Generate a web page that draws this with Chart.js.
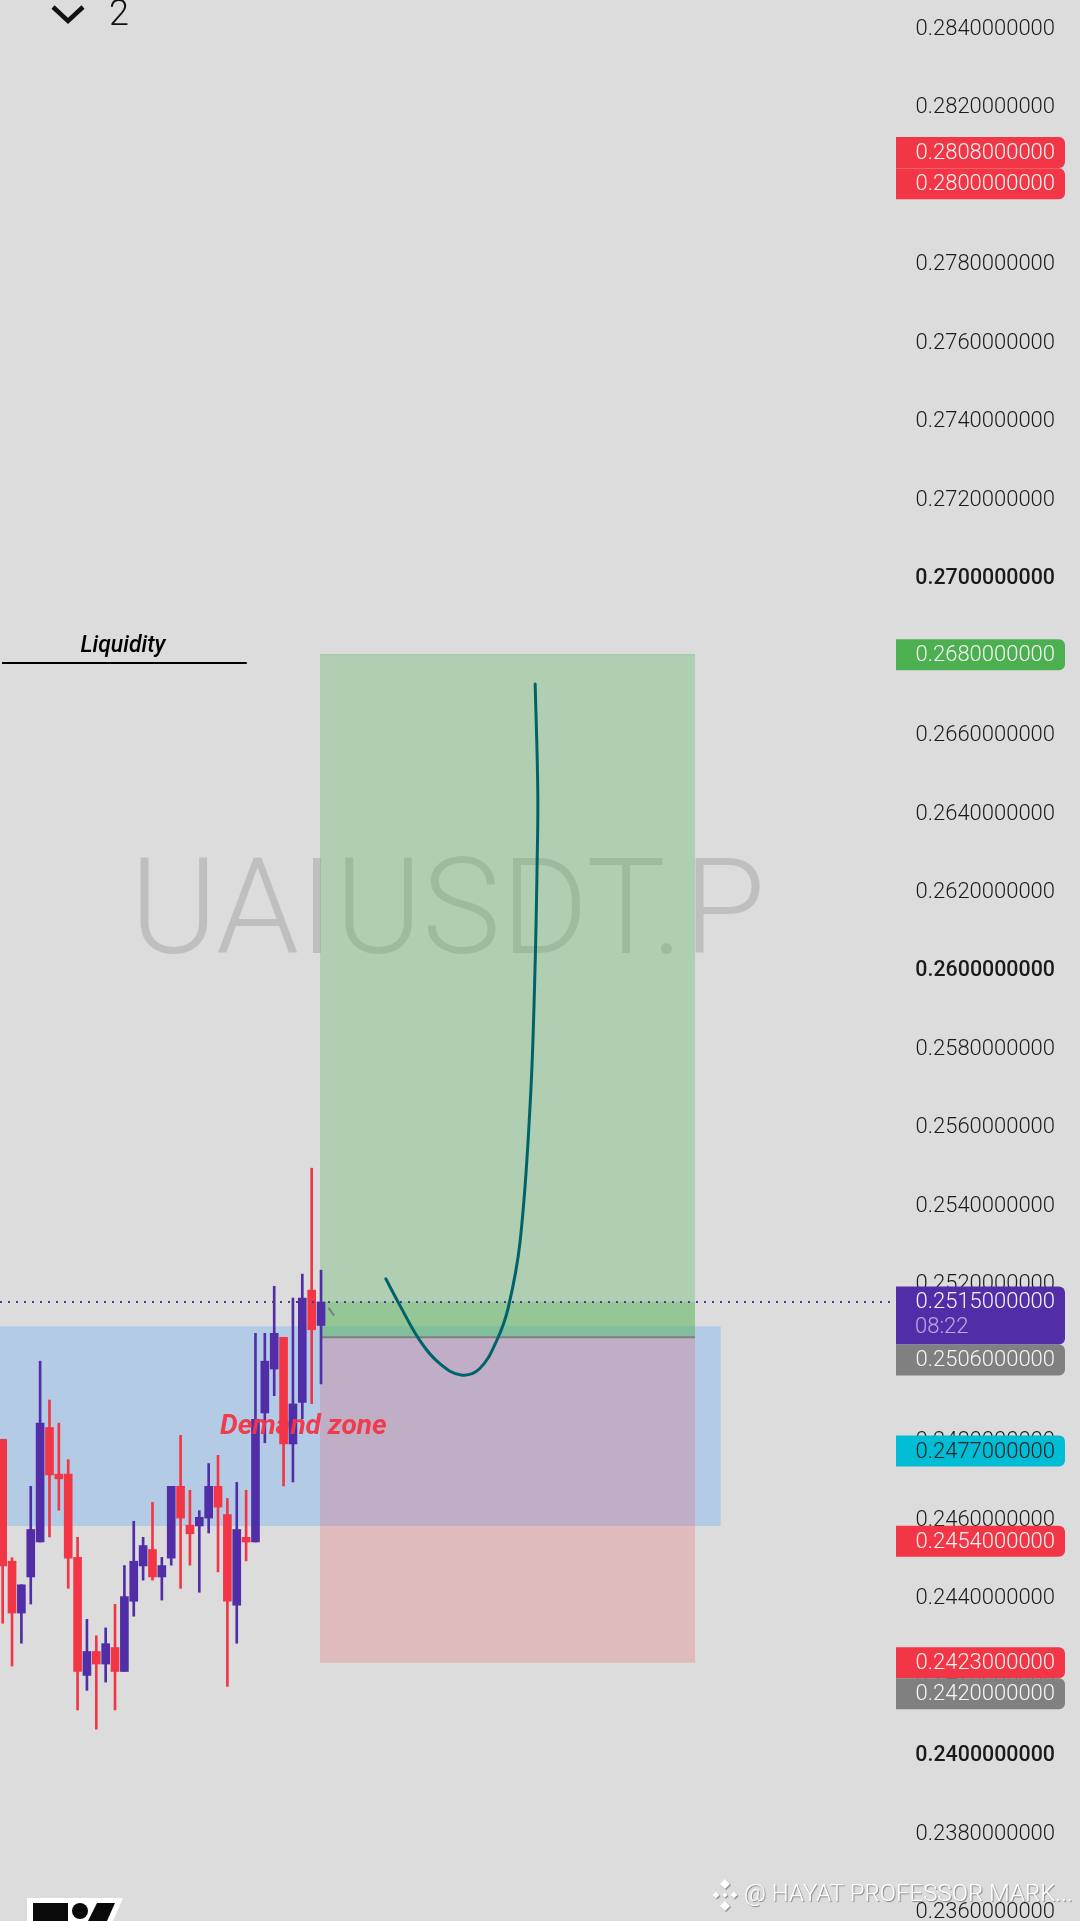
<!DOCTYPE html>
<html>
<head>
<meta charset="utf-8">
<style>
  html, body { margin: 0; padding: 0; background: #dcdcdc; }
  #wrap { position: relative; width: 1080px; height: 1921px; overflow: hidden; }
</style>
<script src="https://cdn.jsdelivr.net/npm/chart.js@4"></script>
</head>
<body>
<div id="wrap"><canvas id="chart" width="1080" height="1921"></canvas></div>
<script>
/* candles, left to right */
const opens  = [0.24800,0.24489,0.24357,0.24449,0.24538,0.24830,0.24711,0.24711,0.24499,0.24198,0.24259,0.24227,0.24269,0.24208,0.24387,0.24477,0.24519,0.24449,0.24497,0.24680,0.24581,0.24579,0.24599,0.24680,0.24608,0.24377,0.24550,0.24538,0.24867,0.24979,0.25060,0.24788,0.24894,0.25180,0.25090];
const closes = [0.24477,0.24357,0.24429,0.24570,0.24841,0.24709,0.24699,0.24497,0.24208,0.24259,0.24227,0.24279,0.24208,0.24399,0.24489,0.24529,0.24449,0.24478,0.24680,0.24599,0.24559,0.24601,0.24680,0.24627,0.24387,0.24570,0.24538,0.24851,0.24999,0.25070,0.24788,0.24890,0.25160,0.25079,0.25150];
const highs  = [0.24800,0.24498,0.24429,0.24680,0.24999,0.24900,0.24841,0.24748,0.24550,0.24341,0.24299,0.24319,0.24379,0.24478,0.24591,0.24550,0.24639,0.24499,0.24680,0.24810,0.24670,0.24618,0.24738,0.24759,0.24649,0.24690,0.24670,0.25070,0.25070,0.25190,0.25060,0.25160,0.25221,0.25491,0.25231];
const lows   = [0.24331,0.24222,0.24280,0.24380,0.24538,0.24551,0.24619,0.24420,0.24110,0.24160,0.24061,0.24181,0.24110,0.24208,0.24349,0.24441,0.24441,0.24390,0.24479,0.24420,0.24479,0.24410,0.24561,0.24462,0.24170,0.24280,0.24490,0.24538,0.24791,0.24911,0.24681,0.24691,0.24852,0.24891,0.24941];

/* y axis */
const yMin = 0.23572;
const yMax = 0.284687;
const tickStep = 0.002;
const boldTicks = [0.27, 0.26, 0.24];

/* price tags on the axis */
const tagPrices = [0.2808, 0.2800, 0.2680, 0.2515, 0.2506, 0.2477, 0.2454, 0.2423, 0.2420];
const tagColors = ["#f23645","#f23645","#4caf50","#512da8","#808080","#00bcd4","#f23645","#f23645","#808080"];
const tagInk    = ["#f5f5f5","#f5f5f5","#f5f5f5","#f5f5f5","#f5f5f5","#222222","#f5f5f5","#f5f5f5","#f5f5f5"];
const countdown = "08:22";

/* drawings, x in candle numbers */
const lastPrice = 0.2515;
const boxLeft = 33.9, boxRight = 73.95;
const targetTop = 0.2680, entry = 0.2506, stopBottom = 0.2423;
const zoneRight = 76.7, zoneTop = 0.25088, zoneBottom = 0.24579;
const liquidityX = [-0.07, 26.07], liquidityY = 0.26779;
const slashX = [34.8, 35.4], slashY = [0.25135, 0.25115];

const curveX = [40.92, 42.45, 44.58, 46.72, 48.95, 50.9, 52.75, 53.99, 55.27, 56.34, 56.82, 57.09, 57.15, 56.87];
const curveY = [0.25209, 0.25140, 0.25051, 0.24992, 0.24964, 0.24979, 0.25051, 0.25135, 0.25306, 0.25657, 0.25968, 0.26282, 0.26453, 0.26725];

const xMin = -0.285, xMax = 95.3;
const indexes = opens.map((_, i) => i);
const UP = "#512da8", DOWN = "#f23645";
const candleColors = opens.map((o, i) => closes[i] >= o ? UP : DOWN);

const fillBox = (x0, x1, top, bottom, color, line, order) => ({
  type: "line",
  order,
  data: [{ x: x0, y: top }, { x: x1, y: top }],
  fill: { value: bottom },
  backgroundColor: color,
  borderColor: line,
  borderWidth: 1,
  pointRadius: 0
});

const flatLine = (xs, ys, color, width, order, extra) => Object.assign({
  type: "line",
  order,
  pointRadius: 0,
  borderWidth: width,
  borderColor: color,
  data: xs.map((v, i) => ({ x: v, y: ys[i] }))
}, extra);

/* text and tags that the chart has no element for */
const overlay = {
  id: "overlay",
  beforeDatasetsDraw(chart) {
    const { ctx } = chart;
    ctx.save();
    ctx.fillStyle = "rgba(0,0,0,0.13)";
    ctx.font = "300 133px Roboto";
    ctx.textAlign = "left";
    ctx.textBaseline = "alphabetic";
    ctx.fillText("UAIUSDT.P", 130, 953);
    ctx.restore();
  },
  afterDatasetsDraw(chart) {
    const { ctx } = chart;
    ctx.save();
    // tv logo, cut by the bottom edge
    ctx.fillStyle = "#fff";
    ctx.beginPath();
    ctx.moveTo(27, 1898);
    ctx.lineTo(123, 1898);
    ctx.lineTo(113, 1921);
    ctx.lineTo(27, 1921);
    ctx.fill();
    ctx.fillStyle = "#0a0a0a";
    ctx.fillRect(33, 1903, 35, 18);
    ctx.beginPath();
    ctx.arc(80, 1911, 8, 0, Math.PI * 2);
    ctx.fill();
    ctx.beginPath();
    ctx.moveTo(97, 1903);
    ctx.lineTo(115, 1903);
    ctx.lineTo(107, 1921);
    ctx.lineTo(88, 1921);
    ctx.fill();

    // author line
    ctx.fillStyle = "#fff";
    ctx.shadowColor = "rgba(0,0,0,0.4)";
    ctx.shadowBlur = 1;
    ctx.shadowOffsetX = 1;
    ctx.shadowOffsetY = 1;
    [[725, 1884, 5], [716, 1895, 3.5], [734, 1895, 3.5], [725, 1895, 2.5], [725, 1906, 5]].forEach(([cx, cy, r]) => {
      ctx.beginPath();
      ctx.moveTo(cx, cy - r);
      ctx.lineTo(cx + r, cy);
      ctx.lineTo(cx, cy + r);
      ctx.lineTo(cx - r, cy);
      ctx.fill();
    });
    ctx.font = "300 24px Roboto";
    ctx.textAlign = "left";
    ctx.textBaseline = "middle";
    ctx.fillText("@ HAYAT PROFESSOR MARK...", 744, 1895);
    ctx.restore();
  },
  afterDraw(chart) {
    const { ctx, scales: { x, y } } = chart;
    ctx.save();

    ctx.textBaseline = "middle";
    ctx.textAlign = "center";
    ctx.fillStyle = "#000";
    ctx.font = "italic 500 23px Roboto";
    ctx.fillText("Liquidity", x.getPixelForValue(12.85), y.getPixelForValue(0.26821));

    ctx.textAlign = "left";
    ctx.fillStyle = "rgba(242,54,69,0.95)";
    ctx.font = "italic bold 28px Roboto";
    ctx.fillText("Demand zone", 220, y.getPixelForValue(0.24832));

    // axis tags, a tag slides down when the one above is in its way
    let bottom = 0;
    tagPrices.forEach((p, i) => {
      const py = Math.max(y.getPixelForValue(p), bottom + 15.5);
      const tall = p === lastPrice;
      const h = tall ? 58 : 31;
      ctx.fillStyle = tagColors[i];
      ctx.beginPath();
      ctx.roundRect(896, py - 15.5, 169, h, [0, 6, 6, 0]);
      ctx.fill();
      bottom = py - 15.5 + h;
      ctx.fillStyle = tagInk[i];
      ctx.font = "300 22px Roboto";
      ctx.textAlign = "right";
      ctx.fillText(p.toFixed(10), 1055, py + 1);
      if (tall) {
        ctx.textAlign = "left";
        ctx.fillStyle = "rgba(255,255,255,0.6)";
        ctx.fillText(countdown, 915, py + 26);
      }
    });

    // top left legend
    ctx.strokeStyle = "#111";
    ctx.lineWidth = 4.5;
    ctx.beginPath();
    ctx.moveTo(53, 7);
    ctx.lineTo(68, 21);
    ctx.lineTo(83, 7);
    ctx.stroke();
    ctx.fillStyle = "#111";
    ctx.textAlign = "left";
    ctx.textBaseline = "alphabetic";
    ctx.font = "300 36px Roboto";
    ctx.fillText("2", 109, 25);
    ctx.restore();
  }
};

new Chart(document.getElementById("chart"), {
  data: {
    datasets: [
      fillBox(xMin, zoneRight, zoneTop, zoneBottom, "rgba(90,165,255,0.3)", "transparent", 11),
      fillBox(boxLeft, boxRight, targetTop, entry, "rgba(76,175,80,0.3)", "rgba(76,175,80,0.35)", 10),
      fillBox(boxLeft, boxRight, lastPrice, entry, "rgba(76,175,80,0.28)", "transparent", 9),
      fillBox(boxLeft, boxRight, entry, stopBottom, "rgba(242,54,69,0.2)", "rgba(242,54,69,0.3)", 9),
      flatLine([boxLeft, boxRight], [entry, entry], "#808080", 2, 8),
      {
        type: "bar", order: 5, barThickness: 2, grouped: false,
        data: indexes.map(i => ({ x: i, y: [lows[i], highs[i]] })),
        backgroundColor: candleColors
      },
      {
        type: "bar", order: 4, barThickness: 8, grouped: false,
        data: indexes.map(i => ({ x: i, y: [opens[i], closes[i]] })),
        backgroundColor: candleColors
      },
      flatLine(slashX, slashY, "#808080", 2, 4),
      flatLine([xMin, xMax], [lastPrice, lastPrice], "#4a3a8f", 2, 3, { borderDash: [2, 6] }),
      flatLine(liquidityX, [liquidityY, liquidityY], "#000", 2, 2),
      flatLine(curveX, curveY, "#00636a", 3, 1, { tension: 0.4, borderCapStyle: "round" })
    ]
  },
  options: {
    responsive: false,
    animation: false,
    layout: { padding: { right: 25 } },
    plugins: { legend: { display: false }, tooltip: { enabled: false } },
    scales: {
      x: { type: "linear", min: xMin, max: xMax, display: false, offset: false, grid: { display: false } },
      y: {
        position: "right", min: yMin, max: yMax, z: 1,
        grid: { display: false }, border: { display: false },
        afterFit(s) { s.width = 160; s.paddingTop = 0; s.paddingBottom = 0; },
        afterBuildTicks(s) {
          const t = [];
          for (let i = 0; i <= 24; i++) t.push({ value: +(0.236 + i * tickStep).toFixed(3) });
          s.ticks = t;
        },
        ticks: {
          color: "#1a1a1a",
          crossAlign: "far",
          autoSkip: false,
          padding: 0,
          labelOffset: 2.5,
          callback: v => v.toFixed(10),
          font: ctx => {
            const bold = ctx.tick && boldTicks.includes(ctx.tick.value);
            return { family: "Roboto", size: bold ? 21.4 : 22, weight: bold ? "500" : "300" };
          }
        }
      }
    }
  },
  plugins: [overlay]
});
</script>
</body>
</html>
